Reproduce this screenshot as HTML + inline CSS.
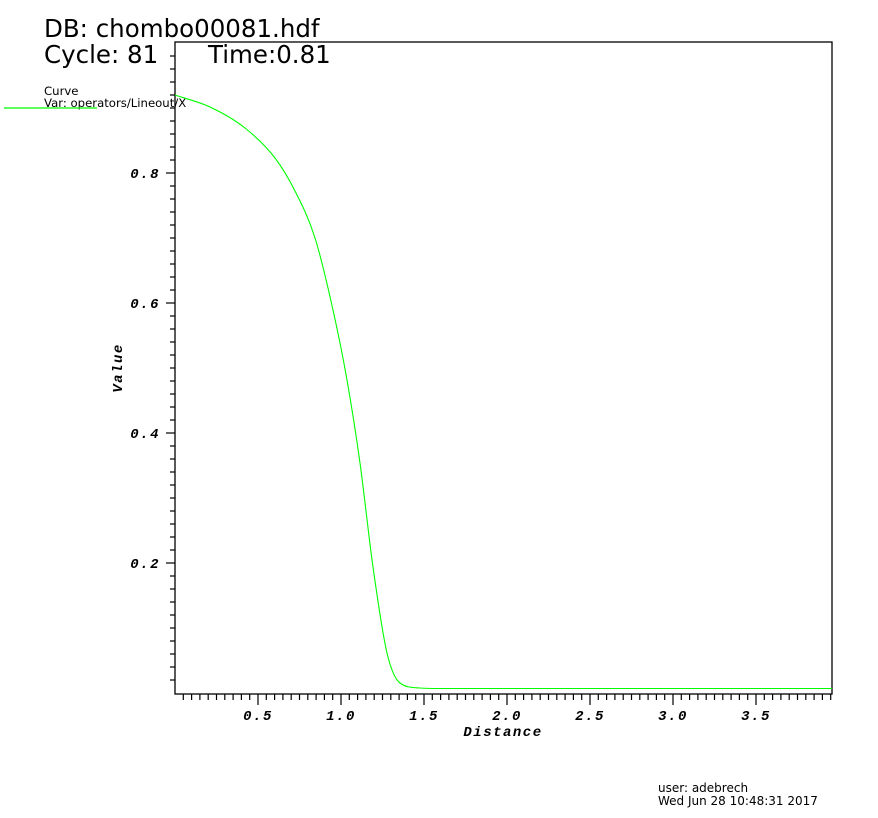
<!DOCTYPE html>
<html><head><meta charset="utf-8"><style>
body{margin:0;background:#fff;}
svg{display:block;}
.t{font-family:"DejaVu Sans","Liberation Sans",sans-serif;fill:#000;}
.l{font-family:"Liberation Mono","DejaVu Sans Mono",monospace;font-weight:bold;font-style:italic;font-size:14px;letter-spacing:1.5px;fill:#000;}
</style></head><body>
<svg id="s" width="878" height="818" xmlns="http://www.w3.org/2000/svg">
<rect width="878" height="818" fill="#fff"/>
<text class="t" x="44" y="37" font-size="24.5">DB: chombo00081.hdf</text>
<text class="t" x="44" y="63" font-size="24.5">Cycle: 81</text>
<text class="t" x="208" y="63" font-size="24.5">Time:0.81</text>
<text class="t" x="44" y="95" font-size="11.7">Curve</text>
<text class="t" x="44" y="107" font-size="11.7">Var: operators/Lineout/X</text>
<line x1="4" y1="108" x2="97" y2="108" stroke="#00ff00" stroke-width="1.2"/>
<rect x="175" y="42" width="657" height="652" fill="none" stroke="#000" stroke-width="1.3"/>
<g id="ticks" stroke="#000" stroke-width="1.2"></g>
<text class="l" x="160" y="178" text-anchor="end">0.8</text>
<text class="l" x="160" y="308" text-anchor="end">0.6</text>
<text class="l" x="160" y="438" text-anchor="end">0.4</text>
<text class="l" x="160" y="568" text-anchor="end">0.2</text>
<text class="l" x="258" y="720" text-anchor="middle">0.5</text>
<text class="l" x="341" y="720" text-anchor="middle">1.0</text>
<text class="l" x="424" y="720" text-anchor="middle">1.5</text>
<text class="l" x="507" y="720" text-anchor="middle">2.0</text>
<text class="l" x="590" y="720" text-anchor="middle">2.5</text>
<text class="l" x="673" y="720" text-anchor="middle">3.0</text>
<text class="l" x="756" y="720" text-anchor="middle">3.5</text>
<text class="l" x="503" y="736" text-anchor="middle">Distance</text>
<text class="l" x="0" y="0" text-anchor="middle" transform="translate(122,368) rotate(-90)">Value</text>
<path id="c" fill="none" stroke="#00ff00" stroke-width="1.1"/>
<text class="t" x="658" y="792" font-size="12">user: adebrech</text>
<text class="t" x="658" y="805" font-size="12">Wed Jun 28 10:48:31 2017</text>
</svg>
<script>
var g=document.getElementById('ticks'),h='';
for(var i=1;i<80;i++){var x=175+i*0.05*166;var maj=i%10==0;if(x>832)break;h+='<line x1="'+x.toFixed(1)+'" y1="694" x2="'+x.toFixed(1)+'" y2="'+(maj?705:700)+'"/>';}
for(var j=1;j<50;j++){var y=693-j*0.02*650;var maj=j%10==0;if(y<43)break;h+='<line x1="175" y1="'+y.toFixed(1)+'" x2="'+(maj?166:170)+'" y2="'+y.toFixed(1)+'"/>';}
g.innerHTML=h;
var p=[[175,95],[210,107],[245,128],[275,158],[295,191],[315,238],[333,310],[347,380],[360,463],[373,567],[387,653],[400,683],[420,688],[440,688.5],[832,688.5]];
var n=p.length,dl=[],m=[];
for(var k=0;k<n-1;k++)dl.push((p[k+1][1]-p[k][1])/(p[k+1][0]-p[k][0]));
m[0]=dl[0];m[n-1]=dl[n-2];
for(var k=1;k<n-1;k++){m[k]=(dl[k-1]*dl[k]<=0)?0:(dl[k-1]+dl[k])/2;}
for(var k=0;k<n-1;k++){if(dl[k]==0){m[k]=0;m[k+1]=0;continue;}var a=m[k]/dl[k],b=m[k+1]/dl[k],s=a*a+b*b;if(s>9){var t=3/Math.sqrt(s);m[k]=t*a*dl[k];m[k+1]=t*b*dl[k];}}
var d='M'+p[0][0]+','+p[0][1];
for(var k=0;k<n-1;k++){var hx=(p[k+1][0]-p[k][0])/3;
d+=' C'+(p[k][0]+hx).toFixed(2)+','+(p[k][1]+m[k]*hx).toFixed(2)+' '+(p[k+1][0]-hx).toFixed(2)+','+(p[k+1][1]-m[k+1]*hx).toFixed(2)+' '+p[k+1][0]+','+p[k+1][1];}
document.getElementById('c').setAttribute('d',d);
</script>
</body></html>
